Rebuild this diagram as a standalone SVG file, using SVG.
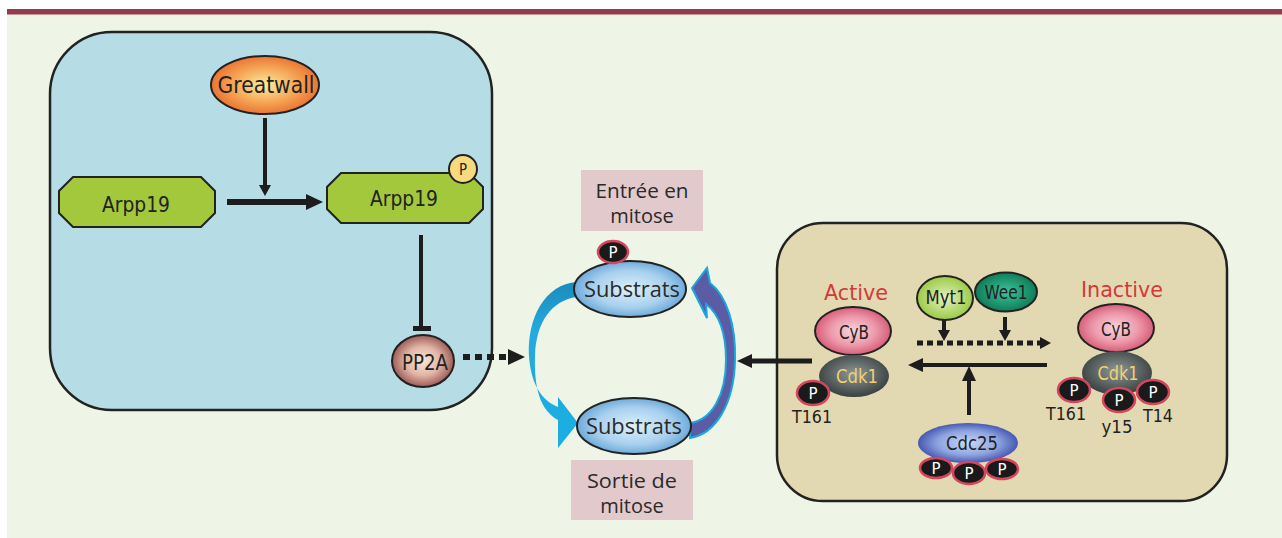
<svg xmlns="http://www.w3.org/2000/svg" width="1282" height="538" viewBox="0 0 1282 538">
  <style>
    .cond { font-family: "DejaVu Sans", "Liberation Sans", sans-serif; fill: #222; text-anchor: middle; }
    .hum { font-family: "Open Sans", "Noto Sans", sans-serif; fill: #2a2a2a; text-anchor: middle; }
    .red { fill: #d23a3a; }
    .yel { fill: #f0d070; }
    .outline { stroke: #222; stroke-width: 2; }
    .phos { fill: #1a1a1a; stroke: #d4465e; stroke-width: 2.5; }
    .ptxt { font-family: "DejaVu Sans", sans-serif; fill: #fff; text-anchor: middle; font-size: 15px; }
    .conn { stroke: #1d1d1d; fill: none; }
  </style>
  <defs>
    <radialGradient id="gGw" cx="50%" cy="50%" r="55%">
      <stop offset="0" stop-color="#fcee9e"/>
      <stop offset="0.55" stop-color="#f5a555"/>
      <stop offset="1" stop-color="#e8692a"/>
    </radialGradient>
    <radialGradient id="gPp" cx="50%" cy="50%" r="55%">
      <stop offset="0" stop-color="#f9e6d8"/>
      <stop offset="0.5" stop-color="#e2b6a6"/>
      <stop offset="1" stop-color="#8c4846"/>
    </radialGradient>
    <radialGradient id="gSub" cx="50%" cy="50%" r="55%">
      <stop offset="0" stop-color="#dcf0fa"/>
      <stop offset="0.6" stop-color="#a8d0ee"/>
      <stop offset="1" stop-color="#5ea0d4"/>
    </radialGradient>
    <radialGradient id="gCyb" cx="50%" cy="50%" r="55%">
      <stop offset="0" stop-color="#f8d4dc"/>
      <stop offset="0.55" stop-color="#ec98aa"/>
      <stop offset="1" stop-color="#d24e6c"/>
    </radialGradient>
    <radialGradient id="gCdk" cx="50%" cy="45%" r="55%">
      <stop offset="0" stop-color="#909898"/>
      <stop offset="1" stop-color="#384040"/>
    </radialGradient>
    <radialGradient id="gMyt" cx="50%" cy="50%" r="55%">
      <stop offset="0" stop-color="#e2f2c2"/>
      <stop offset="1" stop-color="#96c63a"/>
    </radialGradient>
    <radialGradient id="gWee" cx="50%" cy="50%" r="55%">
      <stop offset="0" stop-color="#3cc49c"/>
      <stop offset="1" stop-color="#0a7650"/>
    </radialGradient>
    <radialGradient id="gCdc" cx="50%" cy="50%" r="55%">
      <stop offset="0" stop-color="#c6d8f6"/>
      <stop offset="0.55" stop-color="#8ea4e0"/>
      <stop offset="1" stop-color="#3646a6"/>
    </radialGradient>
    <linearGradient id="gCyan" x1="0" y1="0" x2="0" y2="1">
      <stop offset="0" stop-color="#1a8cbc"/>
      <stop offset="0.3" stop-color="#24aade"/>
      <stop offset="1" stop-color="#1aaee2"/>
    </linearGradient>
    <marker id="ahL" markerUnits="userSpaceOnUse" markerWidth="17" markerHeight="16" viewBox="0 0 17 16" refX="0" refY="8" orient="auto">
      <path d="M0,0 L17,8 L0,16 Z" fill="#1d1d1d"/>
    </marker>
    <marker id="ahM" markerUnits="userSpaceOnUse" markerWidth="15" markerHeight="14" viewBox="0 0 15 14" refX="0" refY="7" orient="auto">
      <path d="M0,0 L15,7 L0,14 Z" fill="#1d1d1d"/>
    </marker>
    <marker id="ahS" markerUnits="userSpaceOnUse" markerWidth="11" markerHeight="12" viewBox="0 0 11 12" refX="0" refY="6" orient="auto">
      <path d="M0,0 L11,6 L0,12 Z" fill="#1d1d1d"/>
    </marker>
  </defs>

  <!-- page background and header rule -->
  <rect x="0" y="0" width="1282" height="538" fill="#ffffff"/>
  <rect x="7" y="14" width="1275" height="524" fill="#eef4e6"/>
  <rect x="7" y="9" width="1275" height="5" fill="#8e3e4a"/>
  <rect x="7" y="14" width="1275" height="1" fill="#c7959c"/>

  <!-- Greatwall / Arpp19 / PP2A module -->
  <rect id="module-greatwall" x="50" y="32" width="442" height="378" rx="62" ry="62" fill="#b6dce6" stroke="#222" stroke-width="2.5"/>

  <!-- Cdk1 regulation module -->
  <rect id="module-cdk1" x="777" y="223" width="450" height="278" rx="46" ry="46" fill="#e2d9b2" stroke="#222" stroke-width="2.5"/>

  <!-- labels for mitotic entry/exit -->
  <g id="label-entree">
    <rect x="581" y="170" width="122" height="61" fill="#e2c9cc"/>
    <text class="hum" x="642" y="198" font-size="20" textLength="93" lengthAdjust="spacingAndGlyphs">Entrée en</text>
    <text class="hum" x="642" y="223" font-size="20">mitose</text>
  </g>
  <g id="label-sortie">
    <rect x="571" y="460" width="122" height="60" fill="#e2c9cc"/>
    <text class="hum" x="632" y="488" font-size="20" textLength="90" lengthAdjust="spacingAndGlyphs">Sortie de</text>
    <text class="hum" x="632" y="513" font-size="20">mitose</text>
  </g>

  <!-- connectors -->
  <g id="connectors">
    <line class="conn" x1="265" y1="118" x2="265" y2="185" stroke-width="4" marker-end="url(#ahS)"/>
    <line class="conn" x1="227" y1="202" x2="306" y2="202" stroke-width="6" marker-end="url(#ahL)"/>
    <line class="conn" x1="421" y1="235" x2="421" y2="327" stroke-width="4"/>
    <rect x="413" y="326" width="18" height="5" fill="#1d1d1d"/>
    <line class="conn" x1="463" y1="357" x2="508" y2="357" stroke-width="6" stroke-dasharray="7 5" marker-end="url(#ahL)"/>
    <line class="conn" x1="812" y1="361" x2="752" y2="361" stroke-width="5" marker-end="url(#ahM)"/>
    <line class="conn" x1="944" y1="319" x2="944" y2="330" stroke-width="4" marker-end="url(#ahS)"/>
    <line class="conn" x1="1005" y1="317" x2="1005" y2="330" stroke-width="4" marker-end="url(#ahS)"/>
    <line class="conn" x1="917" y1="343" x2="1040" y2="343" stroke-width="5" stroke-dasharray="6 4" marker-end="url(#ahS)"/>
    <line class="conn" x1="1047" y1="365" x2="923" y2="365" stroke-width="4" marker-end="url(#ahM)"/>
    <line class="conn" x1="969" y1="415" x2="969" y2="381" stroke-width="4" marker-end="url(#ahM)"/>

    <!-- dephosphorylation arc (cyan) -->
    <path d="M577,282 C545,284 527,318 529,356 C531,386 543,401 558,407 L558,397 L578,423 L558,448 L558,420 C540,410 534,388 535,356 C536,322 552,300 577,297 Z" fill="url(#gCyan)"/>
    <!-- phosphorylation arc (violet) -->
    <path d="M690,423 C712,420 726,395 726,360 C726,332 719,314 706,304 L707,318 L692,288 L707,268 L710,283 C727,296 736,326 735,360 C734,405 715,434 690,438 Z" fill="#5a5ca6" stroke="#1aa8dc" stroke-width="2"/>
  </g>

  <!-- nodes -->
  <g id="node-greatwall">
    <ellipse cx="265" cy="85" rx="54" ry="29" fill="url(#gGw)" class="outline"/>
    <text class="cond" x="266" y="93" font-size="23" textLength="97" lengthAdjust="spacingAndGlyphs">Greatwall</text>
  </g>
  <g id="node-arpp19">
    <polygon points="73,177 201,177 215,191 215,213 201,227 73,227 59,213 59,191" fill="#a3c83c" class="outline"/>
    <text class="cond" x="136" y="212" font-size="22" textLength="68" lengthAdjust="spacingAndGlyphs">Arpp19</text>
  </g>
  <g id="node-arpp19-p">
    <polygon points="341,173 469,173 483,187 483,209 469,223 341,223 327,209 327,187" fill="#a3c83c" class="outline"/>
    <text class="cond" x="404" y="206" font-size="22" textLength="68" lengthAdjust="spacingAndGlyphs">Arpp19</text>
    <circle cx="463" cy="169" r="14" fill="#f6da7e" class="outline"/>
    <text class="cond" x="463" y="175" font-size="16" textLength="8" lengthAdjust="spacingAndGlyphs">P</text>
  </g>
  <g id="node-pp2a">
    <ellipse cx="423" cy="361" rx="31" ry="26" fill="url(#gPp)" class="outline"/>
    <text class="cond" x="425" y="370" font-size="21" textLength="46" lengthAdjust="spacingAndGlyphs">PP2A</text>
  </g>

  <g id="node-substrats-p">
    <ellipse cx="630" cy="289" rx="56" ry="28" fill="url(#gSub)" class="outline"/>
    <text class="hum" x="632" y="297" font-size="21" textLength="96" lengthAdjust="spacingAndGlyphs">Substrats</text>
    <ellipse cx="613" cy="252" rx="15" ry="11" class="phos"/>
    <text class="ptxt" x="613" y="258">P</text>
  </g>
  <g id="node-substrats">
    <ellipse cx="634" cy="426" rx="57" ry="28" fill="url(#gSub)" class="outline"/>
    <text class="hum" x="634" y="434" font-size="21" textLength="96" lengthAdjust="spacingAndGlyphs">Substrats</text>
  </g>

  <g id="node-active">
    <text class="cond red" x="856" y="300" font-size="22" textLength="64" lengthAdjust="spacingAndGlyphs">Active</text>
    <ellipse cx="853" cy="331" rx="38" ry="24" fill="url(#gCyb)" class="outline"/>
    <text class="cond" x="854" y="339" font-size="20" textLength="30" lengthAdjust="spacingAndGlyphs">CyB</text>
    <ellipse cx="854" cy="376" rx="35" ry="21" fill="url(#gCdk)"/>
    <text class="cond yel" x="857" y="383" font-size="20" textLength="42" lengthAdjust="spacingAndGlyphs">Cdk1</text>
    <ellipse cx="813" cy="393" rx="16" ry="12" class="phos"/>
    <text class="ptxt" x="813" y="399">P</text>
    <text class="cond" x="812" y="423" font-size="18" textLength="40" lengthAdjust="spacingAndGlyphs">T161</text>
  </g>

  <g id="node-myt1">
    <ellipse cx="945" cy="298" rx="28" ry="22" fill="url(#gMyt)" class="outline"/>
    <text class="cond" x="946" y="304" font-size="19" textLength="41" lengthAdjust="spacingAndGlyphs">Myt1</text>
  </g>
  <g id="node-wee1">
    <ellipse cx="1006" cy="292" rx="31" ry="19.5" fill="url(#gWee)" class="outline"/>
    <text class="cond" x="1006" y="299" font-size="19" textLength="43" lengthAdjust="spacingAndGlyphs">Wee1</text>
  </g>

  <g id="node-cdc25">
    <ellipse cx="968" cy="443" rx="50" ry="20" fill="url(#gCdc)"/>
    <text class="cond" x="972" y="450" font-size="20" textLength="52" lengthAdjust="spacingAndGlyphs">Cdc25</text>
    <ellipse cx="936" cy="468" rx="16" ry="10" class="phos"/>
    <text class="ptxt" x="936" y="474" font-size="13">P</text>
    <ellipse cx="1002" cy="469" rx="16" ry="10" class="phos"/>
    <text class="ptxt" x="1002" y="475" font-size="13">P</text>
    <ellipse cx="969" cy="473" rx="16" ry="11" class="phos"/>
    <text class="ptxt" x="969" y="479" font-size="13">P</text>
  </g>

  <g id="node-inactive">
    <text class="cond red" x="1122" y="297" font-size="22" textLength="82" lengthAdjust="spacingAndGlyphs">Inactive</text>
    <ellipse cx="1116" cy="328" rx="38" ry="24" fill="url(#gCyb)" class="outline"/>
    <text class="cond" x="1116" y="336" font-size="20" textLength="30" lengthAdjust="spacingAndGlyphs">CyB</text>
    <ellipse cx="1117" cy="373" rx="35" ry="22" fill="url(#gCdk)"/>
    <text class="cond yel" x="1118" y="380" font-size="20" textLength="41" lengthAdjust="spacingAndGlyphs">Cdk1</text>
    <ellipse cx="1074" cy="390" rx="16" ry="12" class="phos"/>
    <text class="ptxt" x="1074" y="396">P</text>
    <ellipse cx="1153" cy="392" rx="16" ry="12" class="phos"/>
    <text class="ptxt" x="1153" y="398">P</text>
    <ellipse cx="1119" cy="400" rx="16" ry="12" class="phos"/>
    <text class="ptxt" x="1119" y="406">P</text>
    <text class="cond" x="1066" y="420" font-size="18" textLength="40" lengthAdjust="spacingAndGlyphs">T161</text>
    <text class="cond" x="1117" y="433" font-size="18" textLength="31" lengthAdjust="spacingAndGlyphs">y15</text>
    <text class="cond" x="1158" y="422" font-size="18" textLength="30" lengthAdjust="spacingAndGlyphs">T14</text>
  </g>
</svg>
